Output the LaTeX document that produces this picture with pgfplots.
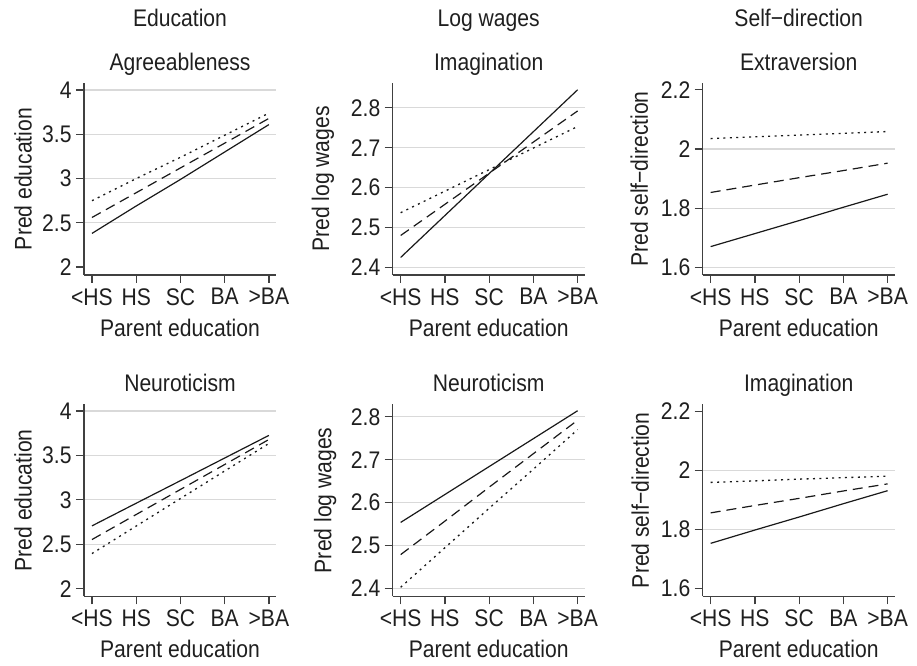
\documentclass[border=0pt]{standalone}
\usepackage{fontspec}
\setmainfont{Liberation Sans}[FakeStretch=0.88]
\usepackage{pgfplots}
\pgfplotsset{compat=1.18}
\definecolor{axgray}{gray}{0.25}
\definecolor{gridgray}{gray}{0.85}
\definecolor{txt}{gray}{0.12}
\newcommand{\fnt}{\fontsize{12}{14}\selectfont}
\pgfplotsset{
  every axis title shift=0pt,
  panel/.style={
    width=96pt, height=96pt, scale only axis,
    anchor=south west,
    xmin=-0.18, xmax=4.16,
    axis x line*=bottom, axis y line*=left,
    xtick={0,1,2,3,4}, xticklabels={<HS,HS,SC,BA,>BA},
    tick align=outside, major tick length=4pt,
    ymajorgrids, grid style={gridgray, line width=0.6pt},
    extra y tick style={grid=none},
    axis line style={line width=0.6pt, axgray},
    tick style={line width=0.6pt, axgray},
    every tick label/.append style={font=\fnt, text=txt},
    xticklabel style={inner sep=2.5pt},
    yticklabel style={inner sep=2pt},
    label style={font=\fnt, text=txt},
    xlabel style={at={(axis description cs:0.5,-0.318)}, anchor=base},
    title style={font=\fnt, text=txt, at={(0.5,1)}, anchor=base, yshift=6.4pt},
    /pgf/number format/assume math mode=true,
    xlabel={Parent education},
    clip=false,
  },
  ylab/.style={ylabel style={at={(axis description cs:#1,0.5)}, anchor=base}},
  solidl/.style={line width=0.6pt, black!90, no markers},
  dashl/.style={line width=0.6pt, black!90, no markers, dash pattern=on 5pt off 3pt},
  dotl/.style={line width=0.65pt, black!90, no markers, dash pattern=on 1pt off 2.2pt},
}
\newcommand{\coltitle}[1]{\node[anchor=base, font=\fnt, text=txt] at (rel axis cs:0.5,1) [yshift=28pt] {#1};}
\begin{document}
\begin{tikzpicture}
% ---------- Top left: Education / Agreeableness
\begin{axis}[panel, at={(42pt,195pt)},
  ymin=1.91, ymax=4.08, ytick={2.5,3,3.5,4}, extra y ticks={2},
  yticklabels={2.5,3,3.5,4}, extra y tick labels={2},
  ylabel={Pred education}, ylab=-0.273, title={Agreeableness}]
  \addplot[solidl] coordinates {(0,2.38) (1,2.69) (2,2.99) (3,3.30) (4,3.61)};
  \addplot[dashl] coordinates {(0,2.56) (1,2.84) (2,3.12) (3,3.40) (4,3.68)};
  \addplot[dotl] coordinates {(0,2.75) (1,3.00) (2,3.24) (3,3.49) (4,3.74)};
  \coltitle{Education}
\end{axis}
% ---------- Top middle: Log wages / Imagination
\begin{axis}[panel, at={(196.35pt,195pt)},
  ymin=2.381, ymax=2.862, ytick={2.4,2.5,2.6,2.7,2.8},
  yticklabels={2.4,2.5,2.6,2.7,2.8},
  ylabel={Pred log wages}, ylab=-0.331, title={Imagination}]
  \addplot[solidl] coordinates {(0,2.425) (1,2.530) (2,2.635) (3,2.740) (4,2.845)};
  \addplot[dashl] coordinates {(0,2.480) (1,2.558) (2,2.636) (3,2.714) (4,2.792)};
  \addplot[dotl] coordinates {(0,2.537) (1,2.591) (2,2.645) (3,2.699) (4,2.753)};
  \coltitle{Log wages}
\end{axis}
% ---------- Top right: Self-direction / Extraversion
\begin{axis}[panel, at={(351.35pt,195pt)},
  ymin=1.574, ymax=2.223, ytick={1.6,1.8,2.0}, extra y ticks={2.2},
  yticklabels={1.6,1.8,2}, extra y tick labels={2.2},
  ylabel={Pred self\textminus direction}, ylab=-0.286, title={Extraversion}]
  \addplot[solidl] coordinates {(0,1.670) (1,1.714) (2,1.758) (3,1.803) (4,1.847)};
  \addplot[dashl] coordinates {(0,1.853) (1,1.878) (2,1.903) (3,1.927) (4,1.952)};
  \addplot[dotl] coordinates {(0,2.035) (1,2.041) (2,2.047) (3,2.053) (4,2.059)};
  \coltitle{Self\textminus direction}
\end{axis}
% ---------- Bottom left: Education / Neuroticism
\begin{axis}[panel, at={(42pt,34.35pt)},
  ymin=1.914, ymax=4.076, ytick={2.5,3,3.5,4}, extra y ticks={2},
  yticklabels={2.5,3,3.5,4}, extra y tick labels={2},
  ylabel={Pred education}, ylab=-0.273, title={Neuroticism}]
  \addplot[solidl] coordinates {(0,2.707) (1,2.962) (2,3.216) (3,3.471) (4,3.726)};
  \addplot[dashl] coordinates {(0,2.553) (1,2.835) (2,3.117) (3,3.398) (4,3.680)};
  \addplot[dotl] coordinates {(0,2.395) (1,2.705) (2,3.015) (3,3.325) (4,3.635)};
\end{axis}
% ---------- Bottom middle: Log wages / Neuroticism
\begin{axis}[panel, at={(196.35pt,34.35pt)},
  ymin=2.382, ymax=2.829, ytick={2.4,2.5,2.6,2.7,2.8},
  yticklabels={2.4,2.5,2.6,2.7,2.8},
  ylabel={Pred log wages}, ylab=-0.32, title={Neuroticism}]
  \addplot[solidl] coordinates {(0,2.554) (1,2.619) (2,2.684) (3,2.749) (4,2.814)};
  \addplot[dashl] coordinates {(0,2.479) (1,2.557) (2,2.636) (3,2.714) (4,2.792)};
  \addplot[dotl] coordinates {(0,2.403) (1,2.495) (2,2.587) (3,2.678) (4,2.770)};
\end{axis}
% ---------- Bottom right: Self-direction / Imagination
\begin{axis}[panel, at={(351.35pt,34.35pt)},
  ymin=1.574, ymax=2.223, ytick={1.8,2.0}, extra y ticks={1.6,2.2},
  yticklabels={1.8,2}, extra y tick labels={1.6,2.2},
  ylabel={Pred self\textminus direction}, ylab=-0.28, title={Imagination}]
  \addplot[solidl] coordinates {(0,1.753) (1,1.798) (2,1.842) (3,1.887) (4,1.931)};
  \addplot[dashl] coordinates {(0,1.856) (1,1.881) (2,1.905) (3,1.930) (4,1.954)};
  \addplot[dotl] coordinates {(0,1.959) (1,1.964) (2,1.970) (3,1.975) (4,1.980)};
\end{axis}
\pgfresetboundingbox
\path[use as bounding box] (0,0) rectangle (458.5pt,332.5pt);
\end{tikzpicture}
\end{document}
